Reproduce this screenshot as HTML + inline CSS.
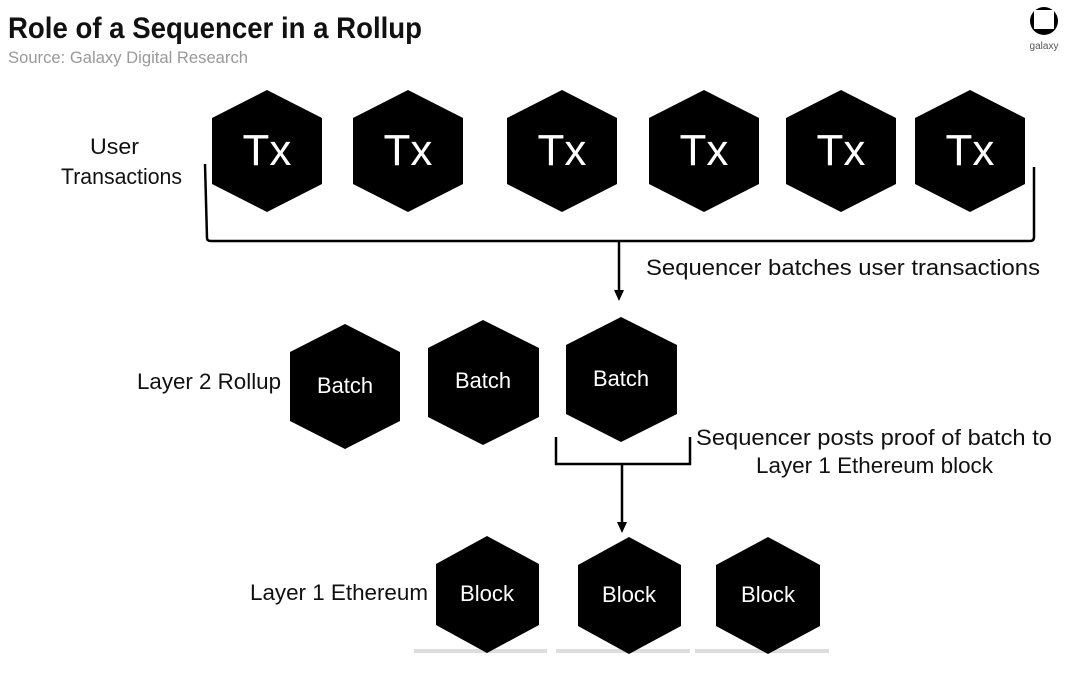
<!DOCTYPE html>
<html><head><meta charset="utf-8"><style>
html,body{margin:0;padding:0;background:#fff;}
svg{display:block;}
text{font-family:"Liberation Sans",sans-serif;}
</style></head><body>
<svg width="1080" height="686" viewBox="0 0 1080 686" xmlns="http://www.w3.org/2000/svg">
<text x="8" y="38" font-size="30" font-weight="bold" fill="#111" textLength="414" lengthAdjust="spacingAndGlyphs">Role of a Sequencer in a Rollup</text>
<text x="8" y="63" font-size="17" fill="#999" textLength="240" lengthAdjust="spacingAndGlyphs">Source: Galaxy Digital Research</text>
<circle cx="1044" cy="21" r="14" fill="#000"/>
<rect x="1034" y="10" width="20" height="19" fill="#fff"/>
<text x="1044" y="49" font-size="10" fill="#555" text-anchor="middle">galaxy</text>

<g fill="#ddd">
<rect x="414" y="649" width="133" height="4"/>
<rect x="556" y="649" width="134" height="4"/>
<rect x="695" y="649" width="134" height="4"/>
</g>

<g fill="#000">
<polygon points="267,90 322,118 322,184 267,212 212,184 212,118"/>
<polygon points="408,90 463,118 463,184 408,212 353,184 353,118"/>
<polygon points="562,90 617,118 617,184 562,212 507,184 507,118"/>
<polygon points="704,90 759,118 759,184 704,212 649,184 649,118"/>
<polygon points="841,90 896,118 896,184 841,212 786,184 786,118"/>
<polygon points="970,90 1025,118 1025,184 970,212 915,184 915,118"/>
<polygon points="345,324 400,352 400,421 345,449 290,421 290,352"/>
<polygon points="483,320 539,348 539,417 483,445 428,417 428,348"/>
<polygon points="621,317 677,345 677,414 621,442 566,414 566,345"/>
<polygon points="487,536 539,564 539,625 487,653 436,625 436,564"/>
<polygon points="629,537 681,565 681,626 629,654 578,626 578,565"/>
<polygon points="768,537 820,565 820,626 768,654 716,626 716,565"/>
</g>
<g fill="#fff" font-size="44" text-anchor="middle">
<text x="267" y="165">Tx</text><text x="408" y="165">Tx</text><text x="562" y="165">Tx</text>
<text x="704" y="165">Tx</text><text x="841" y="165">Tx</text><text x="970" y="165">Tx</text>
</g>
<g fill="#fff" font-size="22">
<text x="317" y="393" textLength="56" lengthAdjust="spacingAndGlyphs">Batch</text>
<text x="455" y="388" textLength="56" lengthAdjust="spacingAndGlyphs">Batch</text>
<text x="593" y="386" textLength="56" lengthAdjust="spacingAndGlyphs">Batch</text>
<text x="460" y="601" textLength="54" lengthAdjust="spacingAndGlyphs">Block</text>
<text x="602" y="602" textLength="54" lengthAdjust="spacingAndGlyphs">Block</text>
<text x="741" y="602" textLength="54" lengthAdjust="spacingAndGlyphs">Block</text>
</g>

<g fill="#111" font-size="22">
<text x="90" y="154" textLength="49" lengthAdjust="spacingAndGlyphs">User</text>
<text x="61" y="184" textLength="121" lengthAdjust="spacingAndGlyphs">Transactions</text>
<text x="646" y="275" textLength="394" lengthAdjust="spacingAndGlyphs">Sequencer batches user transactions</text>
<text x="137" y="389" textLength="144" lengthAdjust="spacingAndGlyphs">Layer 2 Rollup</text>
<text x="696" y="445" textLength="356" lengthAdjust="spacingAndGlyphs">Sequencer posts proof of batch to</text>
<text x="756" y="473" textLength="237" lengthAdjust="spacingAndGlyphs">Layer 1 Ethereum block</text>
<text x="250" y="600" textLength="178" lengthAdjust="spacingAndGlyphs">Layer 1 Ethereum</text>
</g>

<g stroke="#000" stroke-width="2.5" fill="none">
<path d="M205,164 L207,238 Q207,241 211,241 L1030,241 Q1034,241 1034,237 L1034,167"/>
<line x1="619" y1="241" x2="619" y2="292"/>
<path d="M556,437 L556,464 L690,464 L690,437"/>
<line x1="622" y1="464" x2="622" y2="524"/>
</g>
<polygon points="614,290 624,290 619,301" fill="#000"/>
<polygon points="617,522 627,522 622,533" fill="#000"/>
</svg>
</body></html>
